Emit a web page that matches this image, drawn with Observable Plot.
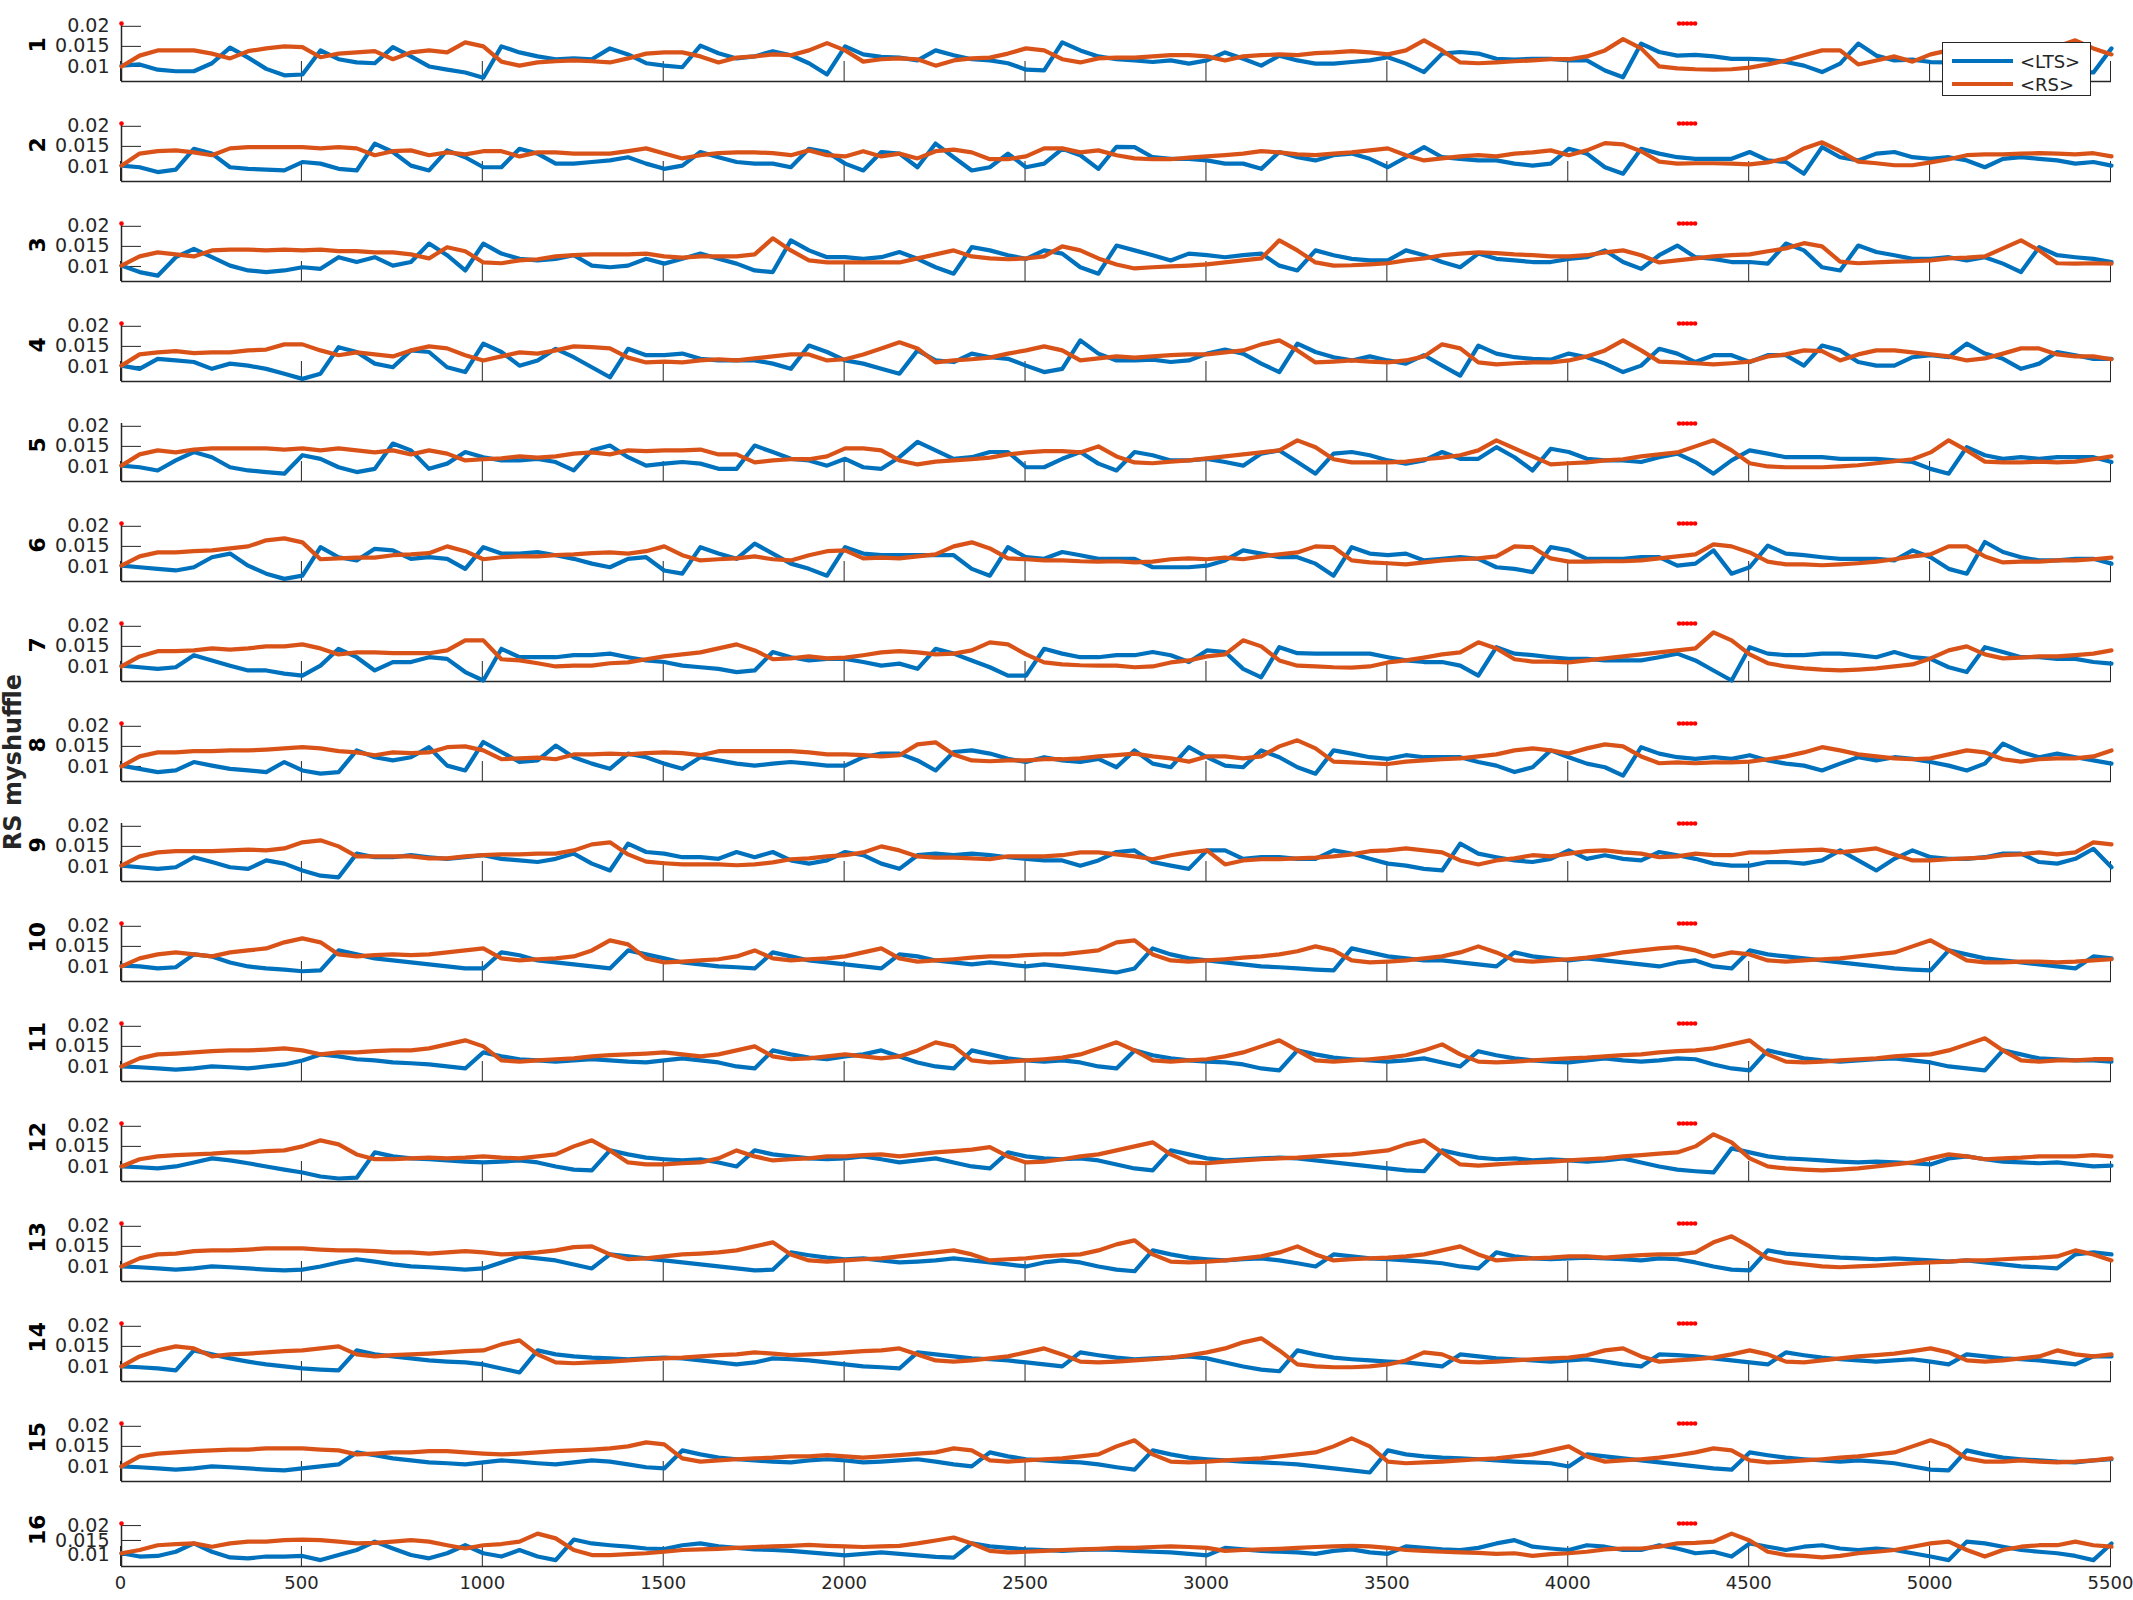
<!DOCTYPE html>
<html><head><meta charset="utf-8">
<script src="https://cdn.jsdelivr.net/npm/d3@7"></script>
<script src="https://cdn.jsdelivr.net/npm/@observablehq/plot@0.6"></script>
<style>
body{margin:0;background:#fff;}
#chart{position:relative;width:2133px;height:1600px;font-family:"DejaVu Sans",sans-serif;color:#262626;overflow:hidden;}
#chart svg{position:absolute;left:0;}
#ylab{position:absolute;left:13px;top:762px;transform:translate(-50%,-50%) rotate(-90deg);font-weight:bold;font-size:24px;white-space:nowrap;}
#legend{position:absolute;left:1942px;top:42px;width:147px;height:52px;border:1px solid #262626;background:#fff;}
#legend .row{position:absolute;left:9px;height:20px;display:flex;align-items:center;font-size:18px;}
#legend .sw{width:61px;height:0;border-top:4px solid;margin-right:7px;}
</style></head><body>
<div id="chart"><div id="ylab">RS myshuffle</div></div>
<script>
// values in units of 1e-4, sampled every 50 time steps from 0 to 5500
const UNIT = 1e-4;
const xSamples = d3.range(0, 5501, 50);
const lts1=[102,105,92,88,88,108,147,122,94,78,80,140,118,110,108,148,125,100,92,85,72,150,135,125,118,120,118,145,130,108,102,98,152,133,120,125,138,128,108,80,150,130,124,122,115,140,128,118,115,108,92,90,160,140,125,118,115,111,115,107,115,135,119,102,127,115,107,107,111,115,123,107,86,132,136,132,119,117,119,119,115,115,90,73,157,136,127,129,125,119,119,117,111,102,86,107,157,127,115,117,111,110,105,100,100,95,95,92,85,85,145];
const rs1=[100,127,140,140,140,132,120,138,145,150,148,123,132,135,138,118,135,140,135,160,150,112,102,110,113,115,113,110,120,132,135,135,125,110,122,125,130,128,140,158,140,112,118,120,118,102,115,120,122,132,145,140,118,110,120,122,122,125,128,128,125,115,125,128,130,128,133,135,138,135,130,140,165,140,110,108,110,113,115,118,118,125,140,168,145,100,95,93,92,93,97,105,115,128,140,140,105,115,125,112,130,140,145,145,148,148,150,150,165,145,130];
const lts2=[102,98,86,92,144,132,98,94,92,90,111,107,94,90,157,136,102,90,140,123,98,98,144,132,107,107,111,115,123,107,94,102,136,123,111,107,107,98,144,136,107,90,136,132,98,157,123,90,98,132,98,107,144,128,94,149,148,123,119,119,115,107,107,94,136,123,115,128,132,119,98,123,148,123,119,115,115,107,102,107,144,132,98,82,144,132,123,119,119,119,136,115,111,82,148,123,115,132,136,123,119,123,115,98,119,123,119,115,107,111,102];
const rs2=[102,132,138,140,135,128,145,148,148,148,148,145,148,145,128,138,140,128,135,130,138,138,125,135,135,132,132,132,138,145,132,120,128,133,135,135,133,128,140,128,125,138,125,132,120,138,142,135,118,118,125,145,145,135,140,128,120,118,118,122,125,128,132,138,135,130,128,132,135,140,145,128,115,120,125,128,125,132,135,140,128,140,158,155,138,112,107,108,108,107,105,110,120,145,160,138,112,108,103,103,110,118,128,130,130,132,133,132,130,133,125];
const lts3=[102,86,77,123,144,123,102,90,86,90,98,94,123,111,123,102,111,157,128,90,157,132,119,115,119,128,102,98,102,119,107,119,132,119,107,90,86,165,140,123,123,119,123,136,119,98,82,148,140,128,119,140,132,98,82,152,140,128,115,132,128,123,128,132,102,90,140,128,119,115,115,140,128,111,98,132,119,115,111,111,119,123,140,111,94,128,152,123,119,111,111,107,157,140,98,90,152,136,128,119,119,123,115,123,107,86,148,128,123,119,111];
const rs3=[102,125,135,130,125,140,142,142,140,142,140,142,138,138,135,135,130,120,148,138,110,108,115,118,125,128,130,130,130,132,125,122,125,125,125,130,170,140,115,110,110,110,110,110,120,130,140,125,120,118,120,125,150,140,120,105,95,98,100,102,105,110,115,120,165,140,110,102,103,105,108,115,120,128,132,135,133,130,128,125,125,128,135,140,128,110,115,120,125,128,130,138,145,158,150,112,108,110,112,113,115,120,122,125,145,165,140,108,107,108,107];
const lts4=[102,94,119,115,111,94,107,102,94,82,69,82,148,136,107,98,140,136,98,86,157,136,102,115,144,123,98,73,144,128,128,132,119,115,115,115,107,94,152,136,115,107,94,82,140,115,111,132,123,119,102,86,94,165,132,115,115,117,111,115,132,142,132,107,86,157,136,123,115,125,115,107,128,102,77,152,132,123,119,117,132,123,107,86,102,144,132,111,128,128,111,128,128,102,152,140,111,102,102,123,128,123,157,132,119,94,107,136,128,119,119];
const rs4=[102,130,135,138,133,135,135,140,142,155,155,140,128,135,130,125,140,150,145,128,115,125,135,132,140,150,148,145,122,110,112,110,115,118,115,120,125,130,130,115,118,130,145,160,145,110,115,118,122,132,140,150,140,115,120,125,122,125,128,130,130,135,140,155,165,140,110,112,115,112,110,115,125,155,145,110,105,108,110,110,115,125,140,165,140,112,110,108,105,108,112,125,130,140,138,115,130,140,140,135,130,125,115,120,132,145,145,130,125,125,118];
const lts5=[102,98,90,115,136,123,98,90,86,82,128,119,98,86,94,157,140,94,107,136,123,115,115,119,111,90,140,152,123,102,107,111,107,94,94,152,136,119,115,102,119,98,94,123,161,140,119,123,136,136,98,98,119,136,107,90,136,128,115,115,119,111,102,132,140,111,82,132,136,128,115,107,115,136,119,119,148,123,90,144,136,119,115,115,111,123,132,111,82,115,140,132,123,123,123,119,119,119,115,111,94,82,148,128,119,123,119,123,123,123,111];
const rs5=[102,130,140,135,142,145,145,145,145,142,145,140,145,140,135,140,130,140,132,115,118,120,125,122,125,132,135,130,140,138,140,140,142,130,130,110,115,118,118,125,145,145,140,115,105,112,115,118,122,130,135,138,138,135,150,125,110,108,112,115,120,125,130,135,140,165,148,118,110,110,110,112,118,122,128,140,165,145,125,105,108,110,115,118,125,130,135,150,165,140,108,100,98,98,98,100,103,108,113,118,135,165,140,112,110,110,112,110,112,118,125];
const lts6=[102,98,94,90,98,123,132,102,82,69,77,148,123,115,144,140,119,123,119,94,148,132,132,136,128,119,107,98,119,123,90,82,148,132,119,157,132,107,94,77,148,132,128,128,128,128,128,94,77,148,123,119,136,128,119,119,119,98,98,98,102,115,140,132,123,123,107,77,148,132,128,132,115,119,123,119,98,94,86,148,140,119,119,119,123,123,102,107,140,82,98,152,132,128,123,119,119,119,115,140,123,94,82,161,136,123,115,115,119,119,107];
const rs6=[102,125,135,135,138,140,145,150,165,170,160,118,120,122,122,128,130,133,150,138,118,123,125,125,128,130,133,135,132,138,150,128,115,118,120,125,118,115,128,138,140,120,122,120,125,130,150,160,145,120,118,115,115,113,112,113,110,112,118,120,118,122,118,125,130,135,150,148,115,110,108,105,110,115,118,120,125,150,148,120,112,112,113,113,115,120,125,130,155,150,135,112,105,105,103,105,108,112,118,125,130,150,150,125,110,112,112,115,115,118,122];
const lts7=[102,98,94,98,128,115,102,90,90,82,77,102,144,123,90,111,111,123,119,86,65,144,123,123,123,128,128,132,123,115,111,102,98,94,86,90,136,123,115,119,119,111,102,107,94,144,132,115,98,77,77,144,132,123,123,128,128,136,128,111,140,136,94,73,148,133,132,132,132,132,123,115,111,111,102,77,148,132,128,123,119,119,115,115,115,123,132,115,90,65,148,132,128,128,132,132,128,123,136,123,119,98,86,148,136,123,123,119,119,111,107];
const rs7=[100,125,138,138,140,145,142,145,150,150,155,145,130,135,135,133,133,133,140,165,165,118,115,108,100,102,102,108,110,118,125,130,135,145,155,140,118,120,125,120,122,128,135,138,135,130,132,140,160,155,130,110,105,103,102,102,98,100,110,115,125,130,165,150,115,102,100,98,97,100,110,115,122,130,135,160,145,118,112,112,110,115,120,125,130,135,140,145,185,165,130,108,100,95,92,90,92,95,100,105,120,140,150,130,120,122,125,125,128,132,140];
const lts8=[102,94,86,90,111,102,94,90,86,111,90,82,86,140,123,115,123,148,102,90,161,136,111,115,152,123,107,94,132,123,107,94,123,115,107,102,107,111,107,102,102,123,132,132,115,90,136,140,132,119,111,123,115,111,119,98,140,107,98,148,123,102,98,140,123,98,82,140,132,123,119,128,123,123,123,111,102,86,98,140,123,107,98,77,148,132,123,119,123,119,128,115,107,102,90,107,123,115,123,119,111,102,90,107,157,136,123,132,123,115,107];
const rs8=[100,125,135,135,138,138,140,140,142,145,148,145,138,135,128,135,133,135,148,150,140,118,120,122,118,130,130,132,130,133,135,133,128,138,138,138,138,138,135,130,130,128,125,128,155,160,130,115,113,115,115,118,118,120,125,128,132,125,120,112,125,125,120,125,150,165,145,112,110,108,106,112,115,118,120,125,130,140,145,140,132,145,155,150,125,108,110,108,110,110,112,118,125,135,148,140,130,125,120,118,120,130,140,135,118,112,118,120,120,125,140];
const lts9=[102,98,94,98,123,111,98,94,115,107,90,77,73,132,123,123,128,123,119,123,128,119,115,111,119,132,107,90,157,136,132,123,123,119,136,123,136,115,107,115,136,128,107,94,128,132,128,132,128,123,119,115,115,102,115,136,140,111,102,94,140,140,119,123,123,119,119,140,132,119,107,102,94,90,157,132,123,115,111,119,140,119,128,119,115,136,128,119,107,102,102,111,111,107,115,140,115,90,119,140,123,119,119,123,132,132,111,107,119,144,98];
const rs9=[102,125,135,138,138,138,140,142,140,145,160,165,150,125,125,125,125,120,120,125,128,130,130,132,132,140,155,160,130,112,108,105,105,105,103,105,110,118,120,125,128,135,150,140,125,122,122,120,118,125,125,125,128,135,135,130,125,118,128,135,140,105,115,118,118,120,122,125,130,138,140,145,140,135,115,105,115,120,128,125,132,138,140,135,132,123,125,132,128,128,135,135,138,140,142,135,140,145,130,115,115,118,120,122,128,130,135,130,135,160,155];
const lts10=[102,100,95,98,130,125,110,100,95,92,88,90,140,130,120,115,110,105,100,95,95,135,128,115,110,105,100,95,140,130,120,110,105,100,98,95,135,125,115,110,105,100,95,130,125,115,110,105,110,105,100,105,100,95,90,85,95,145,130,120,115,110,105,100,98,95,92,90,145,135,125,120,115,115,110,105,100,135,125,120,115,120,115,110,105,100,110,115,100,95,140,130,125,120,115,110,105,100,95,92,90,140,130,120,115,110,105,100,95,125,120];
const rs10=[100,120,130,135,130,125,135,140,145,160,170,160,130,125,128,130,128,130,135,140,145,120,115,118,120,125,140,165,155,120,110,112,115,118,125,140,120,115,118,120,125,135,145,120,112,115,118,122,125,125,128,130,130,135,140,160,165,130,115,112,115,118,122,125,130,138,150,140,115,110,112,115,120,125,135,150,135,115,112,115,118,122,128,135,140,145,148,140,125,135,130,115,112,115,118,120,125,130,135,150,165,140,115,110,110,112,112,110,112,115,118];
const lts11=[100,98,95,92,95,100,98,95,100,105,115,130,125,118,115,110,108,105,100,95,135,125,118,115,112,115,118,115,112,110,115,120,115,110,100,95,140,130,122,118,125,130,140,125,110,100,95,140,130,120,115,112,115,110,100,95,140,128,120,115,112,110,105,95,90,140,130,122,118,115,112,115,120,110,100,138,128,120,115,112,110,115,120,115,112,115,120,118,105,95,90,140,130,120,115,112,115,118,120,115,110,100,95,90,140,130,120,118,115,115,112];
const rs11=[100,120,130,132,135,138,140,140,142,145,140,130,135,135,138,140,140,145,155,165,150,115,112,115,118,120,125,128,130,132,135,130,125,130,140,150,125,118,120,125,130,125,120,125,140,160,150,115,110,112,115,118,122,130,145,160,140,115,112,115,118,125,135,150,165,140,115,112,115,118,122,128,140,155,130,112,110,112,115,118,120,122,125,128,130,135,138,140,145,155,165,130,112,110,112,115,118,120,125,128,130,140,155,170,140,115,112,115,115,118,118];
const lts12=[100,98,95,100,110,120,115,108,100,92,85,75,70,72,135,125,120,118,115,112,110,112,115,110,100,92,90,140,130,122,118,115,118,110,100,140,130,125,120,118,120,125,118,110,115,120,110,100,95,135,125,120,118,120,115,105,95,90,140,130,120,115,118,120,122,120,115,110,105,100,95,90,88,140,130,122,118,120,115,118,115,112,115,120,110,100,92,88,85,145,135,125,120,118,115,112,110,112,110,108,105,120,125,118,112,110,108,110,105,100,102];
const rs12=[100,118,125,128,130,132,135,135,138,140,150,165,155,130,118,118,120,122,120,122,125,122,120,125,130,150,165,140,110,105,105,108,110,120,140,125,115,118,120,125,125,128,130,125,130,135,138,142,148,125,110,112,118,125,130,140,150,160,130,110,108,112,115,118,120,122,125,128,130,135,140,155,165,135,105,102,105,108,110,112,115,118,120,125,128,132,135,150,180,160,120,100,95,92,90,92,95,100,105,110,120,130,125,118,120,122,125,125,125,128,125];
const lts13=[100,98,95,92,95,100,98,95,92,90,92,100,110,118,112,105,100,98,95,92,95,110,125,120,115,105,95,130,125,120,115,110,105,100,95,90,92,135,128,122,118,120,115,110,112,115,120,115,110,105,100,110,115,110,100,92,88,140,130,122,118,115,118,120,115,108,100,130,125,120,118,115,112,108,100,95,135,125,120,118,120,122,120,118,115,120,118,110,100,92,90,140,132,128,125,122,120,118,120,118,115,112,115,110,105,100,98,95,130,135,130];
const rs13=[100,120,130,132,138,140,140,142,145,145,145,142,140,140,138,135,135,132,135,138,135,130,132,135,140,148,150,130,118,120,125,130,132,135,140,150,160,130,115,112,115,118,120,125,130,135,140,130,115,118,120,125,128,130,140,155,165,130,112,110,112,115,120,125,135,150,130,115,118,120,122,125,130,140,150,130,115,118,120,122,125,125,122,125,128,130,130,135,160,175,150,120,110,105,100,98,100,102,105,108,110,112,115,115,118,120,122,125,140,130,115];
const lts14=[100,98,95,90,140,130,120,112,105,100,95,92,90,140,130,125,120,115,112,110,105,95,85,140,130,125,122,120,118,120,122,120,115,110,105,110,120,118,115,110,105,100,98,95,135,130,125,120,118,115,110,105,100,135,128,122,118,120,122,125,120,110,100,92,88,140,130,122,118,115,112,110,105,100,130,125,120,118,115,112,115,118,112,105,100,130,128,125,120,115,110,105,135,128,122,118,115,112,115,118,112,105,130,125,120,118,115,110,105,125,125];
const rs14=[100,125,140,150,145,125,130,132,135,138,140,145,150,130,125,128,130,132,135,138,140,155,165,130,110,108,110,112,115,118,120,122,125,128,130,135,132,128,130,132,135,138,140,145,130,115,112,115,120,125,135,145,130,112,110,112,115,118,122,128,135,145,160,170,140,105,100,98,98,100,105,115,135,130,112,110,112,115,118,120,122,128,140,145,125,112,115,118,122,130,140,130,112,110,115,120,125,128,132,138,145,135,115,112,115,120,125,140,130,125,130];
const lts15=[100,98,95,92,95,100,98,95,92,90,95,100,105,135,128,120,115,110,108,105,110,115,112,108,105,110,115,112,105,98,95,140,130,122,118,115,112,110,115,118,115,110,112,115,118,112,105,100,135,125,118,115,112,110,105,98,92,140,130,122,118,115,112,110,108,105,100,95,90,85,140,130,125,122,120,118,115,112,110,108,100,130,125,120,115,110,105,100,95,92,135,128,122,118,115,112,115,112,108,100,92,90,140,130,122,118,115,112,110,115,118];
const rs15=[100,125,132,135,138,140,142,142,145,145,145,142,140,130,132,135,135,138,138,135,132,130,132,135,138,140,142,145,150,160,155,120,112,115,118,120,122,125,125,128,125,122,125,128,132,135,145,140,115,112,115,118,120,125,130,150,165,130,112,110,112,115,118,120,125,130,135,150,170,150,112,108,110,112,115,118,120,125,130,140,150,125,112,115,118,122,128,135,145,140,115,110,112,115,118,122,125,130,135,150,165,150,120,112,112,115,112,110,112,115,120];
const lts16=[107,96,98,112,140,112,93,90,96,96,98,84,101,118,146,123,101,90,107,134,107,96,118,96,84,153,140,134,129,123,121,134,140,130,125,120,118,115,110,105,100,105,110,105,100,95,92,140,130,125,120,118,115,118,120,118,115,112,110,105,100,125,120,115,112,110,105,115,120,110,105,130,125,120,118,125,140,151,129,123,118,134,129,118,118,134,123,107,112,96,140,129,118,129,134,123,118,123,118,107,96,84,146,140,129,118,112,107,98,84,140];
const rs16=[107,118,134,138,140,129,140,146,146,151,153,151,146,140,142,146,151,146,134,123,134,138,146,173,157,118,101,101,104,107,112,118,120,122,125,128,130,132,135,132,130,128,130,132,140,150,160,140,115,110,112,115,118,120,122,125,125,128,130,128,125,115,118,120,122,125,128,130,132,130,125,118,115,112,110,108,105,107,98,104,107,112,120,123,123,129,140,142,146,173,150,112,101,98,93,98,107,112,118,129,140,146,118,96,118,129,134,134,146,134,129];

const ltsSeries = [lts1,lts2,lts3,lts4,lts5,lts6,lts7,lts8,lts9,lts10,lts11,lts12,lts13,lts14,lts15,lts16];
const rsSeries = [rs1,rs2,rs3,rs4,rs5,rs6,rs7,rs8,rs9,rs10,rs11,rs12,rs13,rs14,rs15,rs16];
const panelLabels = ["1","2","3","4","5","6","7","8","9","10","11","12","13","14","15","16"];
const yTicks = [0.01, 0.015, 0.02];
const xTicks = [0,500,1000,1500,2000,2500,3000,3500,4000,4500,5000,5500];
const sigX = [4305,4316,4327,4338,4349];
const sigLevel = 0.0207;
const startMarked = [1,1,1,1,0,1,1,1,0,1,1,1,1,1,1,1];
const yDomain = [0.00625, 0.0207];

const BLUE = "#0072BD", ORANGE = "#D95319", INK = "#262626";
const chartEl = document.getElementById("chart");

for (let i = 0; i < 16; i++) {
  const last = i === 15;
  const plotH = last ? 43 : 58;
  const bottom = last ? 1566 : 81 + 100 * i;
  const mt = 10, mb = last ? 34 : 4;
  const lts = ltsSeries[i].map((v, j) => ({x: xSamples[j], v: v * UNIT}));
  const rs = rsSeries[i].map((v, j) => ({x: xSamples[j], v: v * UNIT}));
  const dots = sigX.map(x => ({x, v: sigLevel}));
  if (startMarked[i]) dots.push({x: 0, v: sigLevel});
  const svg = Plot.plot({
    width: 2133, height: mt + plotH + mb,
    marginLeft: 121, marginRight: 22, marginTop: mt, marginBottom: mb,
    x: {domain: [0, 5500]},
    y: {domain: yDomain},
    style: {fontFamily: "DejaVu Sans, sans-serif", fontSize: "19px", color: INK, background: "transparent", overflow: "visible"},
    marks: [
      Plot.axisY(yTicks, {tickSize: -20, tickPadding: 32, tickFormat: d => String(d), label: null, fontSize: 19, stroke: INK}),
      Plot.axisX(xTicks, {tickSize: -20, tickPadding: 30, dx: -1, tickFormat: last ? (d => String(d)) : (() => ""), label: null, fontSize: 18, stroke: INK}),
      Plot.ruleX([0], {stroke: INK, strokeWidth: 1.5}),
      Plot.ruleY([yDomain[0]], {stroke: INK, strokeWidth: 1.5}),
      Plot.lineY(lts, {x: "x", y: "v", stroke: BLUE, strokeWidth: 4.2, strokeLinejoin: "round"}),
      Plot.lineY(rs, {x: "x", y: "v", stroke: ORANGE, strokeWidth: 4.2, strokeLinejoin: "round"}),
      Plot.dot(dots, {x: "x", y: "v", r: 2.3, fill: "#FF0000", stroke: null}),
      Plot.text([panelLabels[i]], {frameAnchor: "left", dx: -84, rotate: -90, fontWeight: "bold", fontSize: 22, fill: "#000"})
    ]
  });
  svg.style.top = (bottom - plotH - mt) + "px";
  chartEl.appendChild(svg);
}

const legend = document.createElement("div");
legend.id = "legend";
legend.innerHTML = `<div class="row" style="top:8px"><div class="sw" style="border-color:${BLUE}"></div>&lt;LTS&gt;</div>
<div class="row" style="top:31px"><div class="sw" style="border-color:${ORANGE}"></div>&lt;RS&gt;</div>`;
chartEl.appendChild(legend);
</script>
</body></html>
